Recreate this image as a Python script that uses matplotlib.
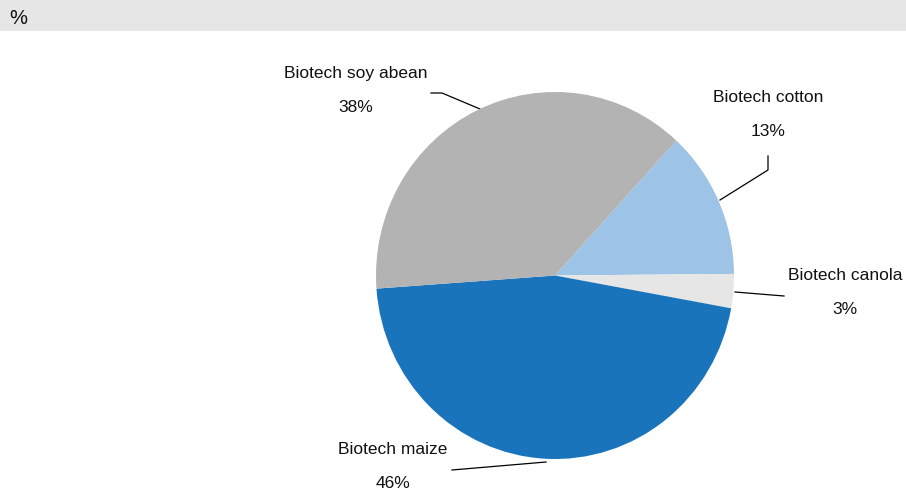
import matplotlib
matplotlib.use('Agg')
import matplotlib.pyplot as plt
from matplotlib.patches import Rectangle

W, H = 906, 491

crops = ['Biotech cotton', 'Biotech canola', 'Biotech maize', 'Biotech soy abean']
shares = [13, 3, 46, 38]
colors = ['#9dc3e6', '#e6e6e6', '#1a74bc', '#b3b3b3']

# label anchor (text centre, px from top-left) and leader line points
label_pos = [(768, 97), (845, 275), (393, 450), (356, 73)]
leaders = [
    [(720, 200), (768, 170), (768, 156)],
    [(735, 292), (784, 296)],
    [(546, 462), (452, 470)],
    [(480, 109), (442, 93), (431, 93)],
]

font = ['Liberation Sans Narrow', 'Liberation Sans', 'DejaVu Sans']

fig = plt.figure(figsize=(W / 100, H / 100), dpi=100)
ax = fig.add_axes([0, 0, 1, 1])

# pie box: centre (555, 275.5), radii 179 x 183.5 px
cx, cy, rx, ry = 555, 275.5, 179, 183.5
pax = fig.add_axes([(cx - rx) / W, (H - cy - ry) / H, 2 * rx / W, 2 * ry / H])
pax.pie(shares, colors=colors, startangle=47.3, counterclock=False,
        radius=1, wedgeprops=dict(linewidth=0))
pax.set_aspect('auto')
pax.set_xlim(-1, 1)
pax.set_ylim(-1, 1)
pax.axis('off')

ax.add_patch(Rectangle((0, H - 31), W, 31, facecolor='#e6e6e6',
                       edgecolor='none'))
ax.text(9, H - 18, '%', fontsize=14.5, va='center', ha='left',
        family=['Liberation Sans', 'DejaVu Sans'], color='#111111')

for name, val, (lx, ly), pts in zip(crops, shares, label_pos, leaders):
    ax.plot([p[0] for p in pts], [H - p[1] for p in pts],
            color='black', linewidth=0.9)
    ax.text(lx, H - ly, name, fontsize=12.5, ha='center', va='center',
            family=font, color='#111111')
    ax.text(lx, H - ly - 34, f'{val}%', fontsize=12.5, ha='center',
            va='center', family=font, color='#111111')

ax.set_xlim(0, W)
ax.set_ylim(0, H)
ax.axis('off')

fig.savefig('out.png', dpi=100)
